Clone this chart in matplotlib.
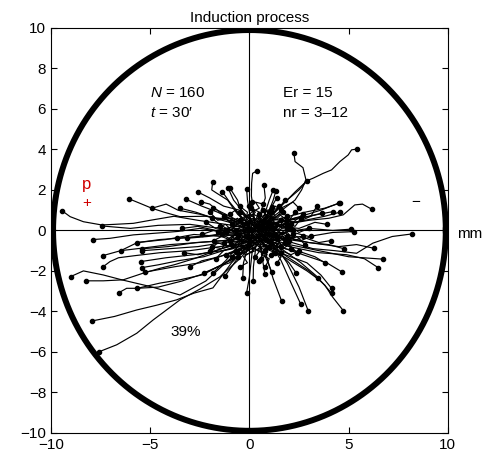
import matplotlib
matplotlib.use('Agg')
import matplotlib.pyplot as plt
import numpy as np

plt.rcParams['font.family'] = ['Liberation Sans', 'DejaVu Sans']
plt.rcParams['mathtext.fontset'] = 'custom'
plt.rcParams['mathtext.it'] = 'Liberation Sans:italic'
plt.rcParams['mathtext.rm'] = 'Liberation Sans'

# Cell tracks (mm), each from start to end point; end point gets a dot
long_tracks = [
    [(0.2, 0.1), (-1.2, 0.3), (-2.6, 0.5), (-3.8, 0.7), (-5.0, 0.5), (-5.85, 0.35), (-6.8, 0.3), (-7.45, 0.27), (-8.37, 0.43), (-9.04, 0.68), (-9.43, 0.96)],
    [(0, 0.3), (-1, 0.5), (-2.2, 0.7), (-3.5, 0.68), (-4.3, 0.9), (-4.93, 1.1), (-5.52, 1.34), (-6.07, 1.56)],
    [(0.3, 0), (-1, 0.4), (-2.5, 0.8), (-3.6, 1.0), (-4.2, 1.3), (-4.9, 1.1)],
    [(0, -0.2), (-1.2, -0.1), (-2.5, 0.1), (-3.6, -0.05), (-4.5, -0.12), (-5.85, -0.22), (-7.03, -0.39), (-7.87, -0.45)],
    [(0, -0.3), (-1.5, -0.2), (-3, -0.35), (-4.5, -0.45), (-5.65, -0.6), (-6.49, -1.0), (-7.37, -1.24)],
    [(0.2, -0.4), (-1.2, -0.5), (-2.6, -0.6), (-4.0, -0.7), (-5.2, -0.85), (-6.49, -1.0)],
    [(0, -0.1), (-1.4, -0.3), (-2.8, -0.2), (-4.2, -0.45), (-5.65, -0.6)],
    [(0, -0.6), (-1.5, -0.8), (-3, -1.0), (-4.5, -1.1), (-5.8, -1.25), (-6.6, -1.35), (-7.03, -1.54), (-7.37, -1.79)],
    [(0.1, -0.5), (-1.3, -0.6), (-2.6, -0.8), (-4.0, -0.9), (-5.4, -1.0)],
    [(0, -0.7), (-1.4, -1.0), (-2.8, -1.2), (-4.2, -1.35), (-5.48, -1.54)],
    [(0.3, -0.6), (-1.0, -0.9), (-2.3, -1.3), (-3.6, -1.5), (-4.6, -1.7), (-5.43, -1.84)],
    [(0, -0.8), (-1.2, -1.2), (-2.5, -1.6), (-3.8, -1.8), (-5.26, -2.06)],
    [(0, -0.6), (-1.2, -1.6), (-2.2, -2.5), (-3.5, -3.19), (-5.01, -2.77), (-6.44, -2.44), (-7.37, -2.2), (-8.37, -2.0), (-9.01, -2.28)],
    [(0.2, -0.5), (-1.4, -0.9), (-2.8, -1.4), (-3.8, -1.7), (-4.5, -1.87), (-5.35, -2.11), (-6.36, -2.44), (-7.37, -2.49), (-8.25, -2.49)],
    [(0, -0.9), (-1.2, -1.6), (-2.4, -2.2), (-3.5, -2.44), (-4.5, -2.6), (-5.65, -2.86), (-6.19, -2.86), (-6.57, -3.07)],
    [(0.3, -0.8), (-1.0, -1.5), (-2.2, -2.1), (-3.4, -2.5), (-4.6, -2.8), (-5.65, -2.86)],
    [(0, -0.7), (-0.9, -1.6), (-1.84, -2.84), (-2.8, -3.1), (-3.67, -3.43), (-4.7, -3.7), (-5.68, -3.93), (-6.8, -4.25), (-7.92, -4.47)],
    [(0.3, -0.6), (-0.6, -1.5), (-1.5, -2.3), (-2.5, -2.9), (-3.5, -3.43), (-4.85, -4.42), (-5.68, -5.08), (-6.69, -5.65), (-7.57, -5.99)],
    [(0, 0.2), (-0.8, 0.5), (-1.6, 0.9), (-2.4, 1.2), (-3.2, 1.54)],
    [(0, 0.3), (-0.6, 0.8), (-1.1, 1.5), (-1.65, 1.84), (-1.9, 2.0), (-1.85, 2.41)],
    [(0.2, 0.1), (-0.7, 0.4), (-1.5, 0.9), (-2.0, 1.3), (-2.46, 1.42)],
    [(0.1, 0.3), (-0.4, 0.9), (-0.6, 1.5), (-0.98, 2.08)],
    [(0, -0.3), (-1.3, -0.5), (-2.7, -0.6), (-4.1, -0.8), (-5.43, -0.91)],
    [(0, -0.2), (-0.6, -0.8), (-1.2, -1.5), (-1.82, -2.08)],
    [(0.2, -0.3), (-0.4, -1.1), (-0.9, -1.8), (-1.23, -2.25)],
    [(0, -0.1), (-0.1, -0.9), (-0.3, -1.6), (-0.34, -2.36)],
    [(0.4, -0.2), (0.3, -1.0), (0.2, -1.8), (0.19, -2.49)],
    [(0.2, -0.5), (0.1, -1.4), (0, -2.3), (-0.14, -3.07)],
    [(0.5, -0.3), (0.6, -1.1), (0.78, -2.16)],
    [(0.6, -0.4), (0.9, -1.4), (1.2, -2.4), (1.62, -3.48)],
    [(0.8, -0.3), (1.4, -1.0), (2.0, -1.6), (2.34, -2.08)],
    [(1.0, -0.5), (1.6, -1.5), (2.1, -2.6), (2.59, -3.65)],
    [(1.2, -0.6), (1.9, -1.6), (2.5, -2.8), (2.96, -3.96)],
    [(0.4, -0.6), (0.8, -1.3), (1.12, -2.03)],
    [(0, -0.1), (-1.2, -0.2), (-2.5, -0.3), (-3.67, -0.39)],
    [(0.3, 0.1), (-1.0, -0.1), (-2.1, -0.3), (-3.16, -0.39)],
    [(0.5, 0), (1.8, -0.5), (3.2, -0.9), (4.3, -1.0), (5.4, -1.13), (6.22, -0.63), (7.2, -0.3), (8.22, -0.17)],
    [(0.4, -0.2), (1.6, -0.4), (3.0, -0.6), (4.5, -0.8), (5.4, -0.7), (6.27, -0.88)],
    [(0.6, -0.3), (2.0, -0.7), (3.5, -1.0), (5.0, -1.3), (6.74, -1.42)],
    [(0.5, -0.4), (2.0, -0.8), (3.5, -1.1), (4.9, -1.2), (5.8, -1.4), (6.49, -1.84)],
    [(0.4, 0), (1.6, -0.3), (3.0, -0.6), (4.0, -0.7), (4.78, -0.91)],
    [(0.5, -0.5), (1.8, -0.9), (3.0, -1.3), (3.9, -1.6), (4.68, -2.06)],
    [(0.6, -0.6), (1.8, -1.2), (2.9, -1.6), (3.6, -2.2), (4.14, -2.86)],
    [(0.7, -0.7), (1.9, -1.4), (2.9, -2.0), (3.6, -2.5), (4.14, -3.1)],
    [(0.8, -0.5), (1.9, -1.3), (3.0, -2.0), (3.8, -2.7), (4.2, -3.3), (4.73, -3.96)],
    [(0.6, -0.4), (1.6, -0.9), (2.6, -1.6), (3.47, -2.33)],
    [(0.5, 0.1), (1.8, 0), (3.0, -0.3), (4.2, -0.1), (5.28, -0.06)],
    [(0.7, 0.4), (1.6, 1.2), (2.3, 1.9), (2.91, 2.46), (3.21, 2.58), (3.72, 2.82), (4.14, 2.99), (4.56, 3.4), (4.98, 3.73), (5.15, 3.98), (5.43, 4.02)],
    [(0.4, 0.3), (1.2, 0.9), (1.9, 1.5), (2.5, 2.0), (2.91, 2.46)],
    [(0.5, 0.2), (1.5, 0.9), (2.3, 1.5), (2.63, 2.0), (2.85, 2.5), (2.7, 3.1), (2.3, 3.4), (2.24, 3.84)],
    [(0.4, 0.1), (1.5, 0.4), (2.6, 0.7), (3.6, 1.0), (4.56, 1.37)],
    [(0.6, 0.1), (1.8, 0.3), (3.0, 0.5), (4.0, 0.6), (4.73, 0.77), (5.31, 1.26), (5.7, 1.3), (6.16, 1.05)],
    [(0.3, 0.2), (1.4, 0.4), (2.6, 0.6), (3.5, 0.8), (4.22, 0.93)],
    [(0.5, 0), (1.6, 0.3), (2.8, 0.5), (3.8, 0.7), (4.56, 0.9)],
    [(0.3, 0.1), (1.2, 0.3), (2.3, 0.6), (3.0, 0.7), (3.64, 0.85)],
    [(0.4, -0.2), (1.7, -0.1), (3.0, 0.1), (4.2, 0.0), (5.1, 0.06)],
    [(0.3, 0.2), (0.2, 1.0), (0.1, 1.7), (0.11, 2.33), (0.16, 2.82), (0.39, 2.95)],
    [(0.5, 0.3), (0.6, 1.0), (0.8, 1.6), (0.73, 2.25)],
    [(0.1, 0.2), (0, 0.9), (-0.1, 1.5), (-0.14, 2.03)],
    [(0.6, 0.2), (0.8, 0.9), (1.0, 1.5), (1.2, 2.0)],
    [(0.7, 0.3), (1.0, 1.0), (1.2, 1.5), (1.33, 1.95)],
    [(0.5, 0.1), (0.8, 0.6), (1.12, 1.18)],
    [(0.6, 0.2), (1.1, 0.7), (1.5, 1.1), (1.79, 1.51)],
    [(0, 0.2), (-0.5, 0.8), (-1.0, 1.4), (-1.37, 1.92)],
    [(0.2, 0.3), (-0.3, 0.9), (-0.8, 1.5), (-1.07, 2.08)],
    [(0.3, 0.1), (0.2, 0.7), (0.11, 1.42)],
    [(0.4, 0.2), (0.9, 0.8), (1.37, 1.59)],
    [(0.1, 0.1), (-0.6, 0.5), (-1.2, 0.8), (-1.82, 1.1)],
    [(0.5, 0.3), (1.6, 0.6), (2.8, 0.9), (3.8, 1.1), (4.52, 1.34)],
    [(0.1, -0.1), (-1.5, 0.1), (-3.0, 0.3), (-4.6, 0.25), (-6.0, 0.1), (-7.43, 0.22)],
]

mid_tracks = [
    [(0.2, -0.2), (-0.8, -0.7), (-1.7, -1.0), (-2.6, -1.2), (-3.3, -1.1)],
    [(0.4, -0.4), (-0.5, -0.9), (-1.5, -1.3), (-2.4, -1.5), (-3.0, -1.8)],
    [(0.5, 0.0), (1.5, 0.2), (2.5, 0.1), (3.3, 0.4), (3.9, 0.3)],
    [(0.6, -0.2), (1.6, -0.4), (2.6, -0.3), (3.5, -0.6), (4.1, -0.5)],
    [(0.3, 0.1), (-0.7, 0.2), (-1.7, 0.0), (-2.6, 0.2), (-3.4, 0.1)],
    [(0.7, 0.1), (1.6, 0.5), (2.4, 0.4), (3.1, 0.7), (3.4, 1.2)],
    [(0.1, -0.5), (-0.5, -1.2), (-1.0, -1.6), (-1.6, -1.8), (-2.3, -2.1)],
    [(0.9, -0.4), (1.8, -0.9), (2.7, -1.1), (3.3, -1.3), (3.8, -1.6)],
    [(0.0, 0.3), (-0.9, 0.6), (-1.8, 0.6), (-2.7, 0.9), (-3.5, 1.1)],
    [(0.5, 0.4), (0.9, 1.0), (1.6, 1.1), (2.2, 1.4), (2.5, 1.1)],
    [(0.2, 0.4), (-0.5, 1.0), (-1.3, 1.2), (-2.0, 1.6), (-2.6, 1.9)],
]

core_tracks = [
    [(0.2, 0.1), (0.6, -0.2), (0.4, -0.6), (0.9, -0.4), (1.3, -0.8), (1.1, -1.2)],
    [(0.0, 0.0), (-0.4, 0.3), (-0.2, 0.7), (0.3, 0.5), (0.5, 0.9), (0.1, 1.1)],
    [(0.5, -0.1), (0.9, 0.2), (1.4, 0.0), (1.8, 0.4), (2.3, 0.2), (2.6, 0.6)],
    [(0.3, -0.3), (-0.2, -0.6), (-0.7, -0.4), (-1.1, -0.8), (-1.6, -0.6), (-2.0, -1.0)],
    [(0.4, 0.2), (0.1, -0.2), (0.6, -0.5), (0.2, -0.9), (0.7, -1.1), (0.5, -1.5)],
    [(0.6, 0.0), (1.0, -0.3), (1.5, -0.1), (1.9, -0.5), (2.4, -0.3), (2.8, -0.7)],
    [(0.1, -0.1), (-0.3, 0.1), (-0.8, -0.1), (-1.2, 0.3), (-1.7, 0.1), (-2.2, 0.4)],
    [(0.7, 0.3), (0.4, 0.6), (0.9, 0.8), (1.2, 0.5), (1.6, 0.9), (1.9, 0.7)],
    [(0.2, -0.4), (0.6, -0.8), (0.3, -1.0), (-0.2, -1.2), (-0.5, -0.9), (-0.9, -1.3)],
    [(0.5, 0.1), (0.2, 0.4), (-0.3, 0.2), (-0.6, 0.6), (-1.0, 0.4), (-1.3, 0.7)],
    [(0.0, -0.2), (0.5, -0.4), (0.9, -0.1), (1.3, -0.5), (1.7, -0.3), (2.1, -0.9)],
    [(0.8, 0.0), (1.2, 0.3), (1.0, 0.6), (1.5, 0.5), (1.8, 0.1), (2.2, 0.0)],
    [(0.3, 0.0), (-0.1, -0.4), (-0.5, -0.2), (-0.9, -0.5), (-1.4, -0.3), (-1.8, -0.5)],
    [(0.6, -0.2), (1.0, -0.6), (1.4, -0.4), (1.7, -0.9), (2.0, -0.7), (2.4, -1.1)],
    [(0.1, 0.2), (0.4, 0.5), (0.0, 0.8), (-0.4, 0.6), (-0.7, 1.0), (-1.0, 0.8)],
    [(0.4, -0.1), (0.8, 0.2), (0.5, 0.4), (1.0, 0.3), (1.3, 0.7), (1.1, 1.0)],
    [(0.2, 0.0), (0.0, -0.5), (0.4, -0.7), (0.1, -1.1), (-0.3, -0.8), (-0.6, -1.1)],
    [(0.7, -0.1), (1.1, -0.4), (0.8, -0.8), (1.2, -1.0), (1.6, -1.3), (1.4, -1.6)],
    [(0.0, 0.1), (-0.5, 0.0), (-0.9, 0.2), (-1.3, -0.1), (-1.8, 0.0), (-2.4, -0.2)],
    [(0.5, 0.2), (0.9, 0.5), (1.4, 0.3), (1.8, 0.6), (2.2, 0.4), (2.7, 0.8)],
    [(0.3, -0.5), (-0.1, -0.7), (0.2, -1.0), (-0.3, -1.3), (-0.1, -1.6), (-0.5, -1.8)],
    [(0.6, 0.1), (0.3, -0.2), (0.7, -0.3), (1.1, 0.0), (1.5, -0.2), (1.9, 0.1)],
    [(0.2, 0.3), (-0.2, 0.5), (0.1, 0.9), (0.5, 1.1), (0.3, 1.4), (0.7, 1.3)],
    [(0.4, 0.0), (0.0, 0.2), (-0.4, -0.1), (-0.8, 0.1), (-1.2, -0.2), (-1.5, 0.2)],
    [(0.9, -0.2), (1.3, 0.1), (1.7, -0.2), (2.1, 0.2), (2.5, -0.1), (3.0, 0.1)],
    [(0.1, -0.3), (0.5, -0.6), (0.9, -0.9), (0.6, -1.2), (1.0, -1.4), (0.8, -1.8)],
    [(0.5, -0.3), (0.1, -0.6), (-0.4, -0.5), (-0.8, -0.9), (-1.3, -1.0), (-1.7, -1.4)],
    [(0.3, 0.1), (0.7, 0.4), (0.4, 0.7), (0.8, 1.0), (1.2, 0.8), (1.5, 1.2)],
    [(0.6, -0.4), (1.0, -0.2), (0.7, 0.1), (1.1, 0.3), (1.5, 0.0), (1.9, 0.3)],
    [(0.0, 0.0), (0.3, -0.3), (-0.2, -0.4), (-0.6, -0.1), (-1.0, -0.4), (-1.4, -0.2)],
    [(0.8, 0.1), (0.5, -0.2), (0.9, -0.5), (1.3, -0.3), (1.6, -0.7), (2.0, -0.5)],
    [(0.2, -0.2), (-0.2, 0.1), (-0.6, 0.3), (-1.0, 0.0), (-1.5, 0.3), (-1.9, 0.6)],
    [(0.4, 0.3), (0.8, 0.1), (1.2, 0.4), (1.6, 0.2), (2.0, 0.5), (2.3, 0.9)],
    [(0.7, 0.0), (0.4, -0.4), (0.8, -0.7), (0.4, -1.0), (0.9, -1.2), (0.6, -1.4)],
    [(0.1, 0.0), (0.5, 0.3), (0.2, 0.6), (-0.2, 0.4), (-0.1, 0.9), (-0.5, 1.2)],
    [(0.5, -0.5), (0.9, -0.8), (1.3, -0.6), (1.6, -1.0), (2.1, -1.2), (2.5, -1.0)],
    [(0.3, 0.0), (-0.2, -0.2), (-0.6, -0.6), (-1.1, -0.5), (-1.4, -0.9), (-1.9, -0.8)],
    [(0.6, 0.3), (1.0, 0.0), (1.4, 0.2), (1.2, -0.2), (1.7, -0.4), (2.2, -0.2)],
    [(0.2, -0.1), (0.6, 0.1), (1.0, -0.2), (0.8, -0.5), (1.3, -0.6), (1.8, -0.4)],
    [(0.4, 0.1), (0.0, 0.4), (-0.4, 0.3), (-0.7, -0.1), (-1.1, 0.1), (-1.6, -0.1)],
    [(0.9, 0.0), (1.3, -0.3), (1.8, -0.1), (2.1, -0.4), (2.6, -0.5), (3.1, -0.3)],
    [(0.0, -0.3), (0.3, -0.7), (-0.1, -0.9), (-0.5, -0.7), (-0.8, -1.1), (-1.2, -1.2)],
    [(0.5, 0.0), (0.8, 0.4), (1.2, 0.6), (0.9, 0.9), (1.3, 1.2), (1.6, 1.0)],
    [(0.3, -0.2), (0.7, -0.5), (1.1, -0.2), (1.5, -0.6), (1.2, -0.9), (1.6, -1.1)],
    [(0.7, 0.2), (0.3, 0.3), (0.6, 0.6), (0.2, 0.8), (-0.2, 0.7), (-0.5, 0.9)],
    [(0.1, 0.1), (-0.3, -0.1), (0.0, -0.4), (-0.4, -0.6), (-0.9, -0.3), (-1.3, -0.6)],
    [(0.6, -0.1), (1.0, 0.1), (1.4, -0.3), (1.9, -0.1), (2.3, -0.5), (2.7, -0.3)],
    [(0.4, -0.3), (0.1, 0.0), (0.5, 0.2), (0.9, 0.0), (0.7, -0.4), (1.1, -0.6)],
    [(0.2, 0.2), (0.6, 0.0), (0.3, -0.3), (0.8, -0.2), (0.5, 0.2), (1.0, 0.4)],
    [(0.5, 0.1), (0.1, 0.3), (-0.3, 0.0), (-0.2, -0.4), (0.3, -0.3), (0.0, -0.7)],
    [(0.8, -0.3), (1.2, -0.1), (1.5, 0.3), (1.1, 0.5), (1.5, 0.8), (1.9, 0.5)],
    [(0.0, 0.2), (-0.4, 0.4), (-0.8, 0.3), (-1.2, 0.6), (-1.6, 0.5), (-2.0, 0.9)],
    [(0.3, -0.4), (0.7, -0.2), (0.4, 0.1), (0.0, -0.1), (-0.3, 0.2), (-0.7, 0.0)],
    [(0.6, 0.2), (1.0, -0.1), (0.7, -0.4), (1.1, -0.7), (0.8, -0.9), (1.3, -1.1)],
    [(0.2, 0.0), (0.6, 0.3), (1.0, 0.1), (0.8, 0.5), (0.4, 0.4), (0.5, 0.8)],
    [(0.3, 0.0), (0.7, -0.3), (1.1, -0.1), (1.4, -0.4)],
    [(0.5, 0.2), (0.2, 0.5), (-0.2, 0.3), (-0.5, 0.5)],
    [(0.1, -0.1), (-0.3, -0.3), (-0.7, -0.2), (-1.0, -0.5)],
    [(0.6, -0.1), (0.9, 0.3), (1.3, 0.2), (1.6, 0.5)],
    [(0.4, -0.2), (0.2, -0.6), (0.6, -0.9), (0.3, -1.3)],
    [(0.2, 0.1), (0.5, 0.4), (0.9, 0.6), (0.7, 1.0)],
    [(0.7, 0.0), (1.1, 0.2), (1.5, -0.1), (1.9, -0.3)],
    [(0.0, 0.0), (-0.4, -0.2), (-0.8, 0.1), (-1.2, -0.1)],
    [(0.5, -0.4), (0.9, -0.6), (1.2, -0.9), (1.6, -0.8)],
    [(0.3, 0.3), (0.0, 0.6), (0.3, 0.9), (0.0, 1.2)],
    [(0.8, 0.2), (1.2, 0.0), (1.6, 0.3), (2.0, 0.1)],
    [(0.2, -0.3), (-0.2, -0.5), (-0.5, -0.8), (-0.9, -0.7)],
    [(0.4, 0.1), (0.8, -0.1), (1.2, -0.4), (1.0, -0.8)],
    [(0.6, 0.4), (1.0, 0.7), (1.4, 0.6), (1.7, 0.9)],
    [(0.1, 0.0), (-0.2, 0.3), (-0.6, 0.5), (-0.9, 0.3)],
    [(0.5, -0.2), (0.8, -0.5), (0.5, -0.8), (0.8, -1.0)],
    [(0.3, -0.1), (0.0, 0.1), (-0.4, 0.0), (-0.6, -0.3)],
    [(0.7, -0.3), (1.1, -0.5), (1.5, -0.3), (1.8, -0.6)],
    [(0.2, 0.2), (0.5, 0.0), (0.8, 0.3), (1.1, 0.1)],
    [(0.4, -0.5), (0.1, -0.8), (-0.3, -1.0), (-0.6, -1.3)],
    [(0.6, 0.1), (0.4, 0.4), (0.8, 0.6), (1.1, 0.9)],
    [(0.0, -0.2), (-0.4, -0.4), (-0.3, -0.8), (-0.7, -1.0)],
    [(0.9, 0.1), (1.3, 0.3), (1.7, 0.1), (2.1, 0.3)],
    [(0.3, 0.2), (0.6, -0.1), (0.9, -0.4), (1.3, -0.2)],
]

tracks = long_tracks + mid_tracks + core_tracks
radius = 9.9

fig = plt.figure(figsize=(4.91, 4.59), dpi=100)
ax = fig.add_axes([0.104, 0.057, 0.808, 0.882])

# axes cross through the origin
ax.axhline(0, color='black', lw=0.8, zorder=1)
ax.axvline(0, color='black', lw=0.8, zorder=1)

for tr in tracks:
    pts = np.array(tr)
    ax.plot(pts[:, 0], pts[:, 1], color='black', lw=0.85, zorder=2)
    ax.plot(pts[-1, 0], pts[-1, 1], 'o', color='black', ms=3, zorder=3)

# chamber outline
theta = np.linspace(0, 2 * np.pi, 400)
ax.plot(radius * np.cos(theta), radius * np.sin(theta), color='black', lw=4.3, zorder=4)

ax.set_xlim(-10, 10)
ax.set_ylim(-10, 10)
ax.set_xticks([-10, -5, 0, 5, 10])
ax.set_yticks(np.arange(-10, 11, 2))
ax.tick_params(direction='in', top=True, right=True, length=4, labelsize=11)
for s in ax.spines.values():
    s.set_linewidth(0.8)

ax.set_title('Induction process', fontsize=11, pad=4)

ax.text(-5.0, 6.8, '$N$ = 160', fontsize=11, va='center')
ax.text(-5.0, 5.8, '$t$ = 30\u2032', fontsize=11, va='center')
ax.text(1.7, 6.8, 'Er = 15', fontsize=11, va='center')
ax.text(1.7, 5.8, 'nr = 3\u201312', fontsize=11, va='center')
ax.text(-3.2, -5.0, '39%', fontsize=11, ha='center', va='center')
ax.text(-8.2, 2.25, 'p', color='#d00000', fontsize=12, ha='center', va='center')
ax.text(-8.2, 1.35, '+', color='#d00000', fontsize=11, ha='center', va='center')
ax.text(8.4, 1.4, '\u2212', color='black', fontsize=11, ha='center', va='center')
ax.text(10.45, -0.2, 'mm', fontsize=11, ha='left', va='center', clip_on=False)

fig.savefig('out.png', dpi=100)
